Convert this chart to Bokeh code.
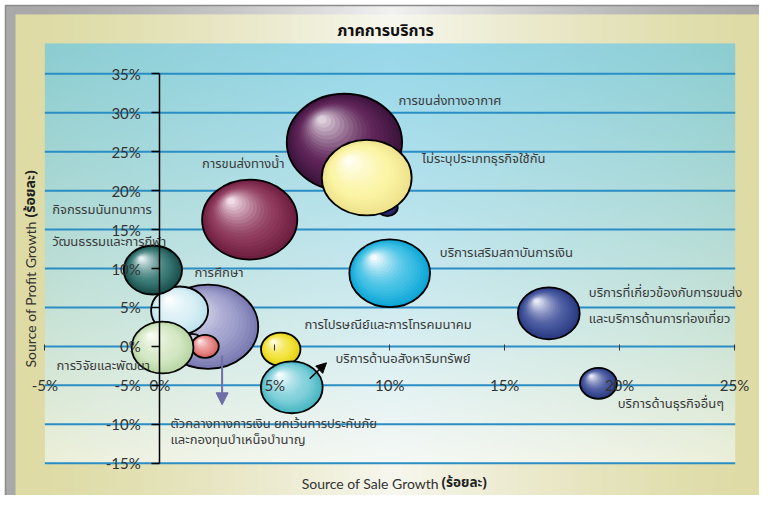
import numpy as np
from bokeh.plotting import figure
from bokeh.models import (ColumnDataSource, FixedTicker, PrintfTickFormatter,
                          Arrow, NormalHead, Range1d)
from bokeh.core.properties import value
from bokeh.embed import file_html
from bokeh.resources import INLINE

# ---------------- data ----------------
title_text = "ภาคการบริการ"
categories = [
    "การขนส่งทางอากาศ",
    "บริการอื่น (เล็ก)",
    "ไม่ระบุประเภทธุรกิจใช้กัน",
    "การขนส่งทางน้ำ",
    "ตัวกลางทางการเงิน ยกเว้นการประกันภัยและกองทุนบำเหน็จบำนาญ",
    "การศึกษา",
    "บริการอื่น (สีเทา)",
    "บริการอื่น (สีแดง)",
    "การวิจัยและพัฒนา",
    "กิจกรรมนันทนาการ วัฒนธรรมและการกีฬา",
    "การไปรษณีย์และการโทรคมนาคม",
    "บริการด้านอสังหาริมทรัพย์",
    "บริการเสริมสถาบันการเงิน",
    "บริการที่เกี่ยวข้องกับการขนส่งและบริการด้านการท่องเที่ยว",
    "บริการด้านธุรกิจอื่นๆ",
]
sale_growth = [8.03, 9.90, 9.00, 3.91, 2.10, 0.86, 1.42, 1.97, 0.12, -0.30,
               5.26, 5.74, 10.00, 16.92, 19.08]
profit_growth = [26.22, 17.84, 21.66, 16.29, 2.52, 4.61, 0.50, 0.01, -0.14, 9.81,
                 -0.37, -5.25, 9.39, 4.25, -4.74]
bubble_size = [94, 3, 57, 64, 71, 23, 3, 5.3, 27, 24, 11, 27, 46, 27, 9.6]

x_ticks = [-5, 0, 5, 10, 15, 20, 25]
y_ticks = [-15, -10, -5, 0, 5, 10, 15, 20, 25, 30, 35]

# label texts and their anchor positions (in axis units, %)
label_texts = [
    "การขนส่งทางอากาศ", "ไม่ระบุประเภทธุรกิจใช้กัน", "การขนส่งทางน้ำ",
    "กิจกรรมนันทนาการ", "วัฒนธรรมและการกีฬา", "การศึกษา",
    "การไปรษณีย์และการโทรคมนาคม", "บริการด้านอสังหาริมทรัพย์",
    "การวิจัยและพัฒนา", "ตัวกลางทางการเงิน ยกเว้นการประกันภัย",
    "และกองทุนบำเหน็จบำนาญ", "บริการเสริมสถาบันการเงิน",
    "บริการที่เกี่ยวข้องกับการขนส่ง", "และบริการด้านการท่องเที่ยว",
    "บริการด้านธุรกิจอื่นๆ",
]
label_x = [10.38, 11.41, 1.84, -4.68, -4.68, 1.51, 6.29, 7.64, -4.49, 0.47,
           0.47, 12.18, 18.66, 18.66, 19.92]
label_y = [31.45, 24.0, 23.45, 17.45, 13.38, 9.45, 2.81, -1.59, -2.58, -9.94,
           -12.08, 12.02, 6.83, 3.54, -7.46]

# ---------------- styles ----------------
# (dark edge, body, highlight) per bubble
bubble_colors = [
    ("#3c143c", "#5e2458", "#ddd0dc"),
    ("#1e1e5a", "#2e2e78", "#8080c0"),
    ("#efe28c", "#fbf4a4", "#fffef2"),
    ("#6e1e40", "#8e3a5c", "#f0dce6"),
    ("#7a7ab2", "#a0a0cc", "#f2f2fa"),
    ("#bde2ec", "#d8eff5", "#ffffff"),
    ("#9c9cbe", "#c4c4dc", "#f0f0f8"),
    ("#d66060", "#e88c8c", "#fde8e8"),
    ("#b8d6a4", "#d4e8c4", "#f8fbf4"),
    ("#1a4e4c", "#3a7a76", "#e4f0f0"),
    ("#e4d010", "#f2e440", "#fffce8"),
    ("#48b6c2", "#80d0da", "#f4fcfd"),
    ("#0ea6d6", "#40c0e4", "#f4fbfd"),
    ("#2a3a82", "#4a5aa0", "#e8eaf6"),
    ("#2a3a82", "#4a5aa0", "#e8eaf6"),
]

W, H = 759, 495
XR = (-6.929, 26.085)
YR = (-19.145, 44.414)
SX = W / (XR[1] - XR[0])
SY = H / (YR[1] - YR[0])

THAI = "Noto Sans Thai, Noto Sans, sans-serif"
LATIN = "Lato"

p = figure(width=W, height=H, x_range=Range1d(*XR), y_range=Range1d(*YR),
           output_backend="svg", toolbar_location=None, min_border=0)
p.outline_line_color = None
p.background_fill_color = "white"
p.border_fill_color = "white"
p.grid.visible = False


def hex2rgb(h):
    h = h.lstrip("#")
    return np.array([int(h[i:i + 2], 16) for i in (0, 2, 4)], dtype=float)


def rgb2hex(c):
    c = np.clip(np.round(c), 0, 255).astype(int)
    return "#%02x%02x%02x" % tuple(c)


def make_img(nx, ny, func):
    u = np.linspace(0, 1, nx)[None, :]
    v = np.linspace(0, 1, ny)[:, None]  # v=0 bottom row
    r, g, b = func(u + 0 * v, v + 0 * u)
    img = np.empty((ny, nx), dtype=np.uint32)
    view = img.view(dtype=np.uint8).reshape((ny, nx, 4))
    view[:, :, 0] = np.clip(r, 0, 255)
    view[:, :, 1] = np.clip(g, 0, 255)
    view[:, :, 2] = np.clip(b, 0, 255)
    view[:, :, 3] = 255
    return img


def lerp3(a, b, t):
    return [a[i] + (b[i] - a[i]) * t for i in range(3)]


# gray outer frame (spans the whole chart card, wider than the visible page part)
gx0, gx1 = -6.712, 26.9
gy0, gy1 = YR[0], 43.77
gray_edge = hex2rgb("#a9a9a9"); gray_mid = hex2rgb("#f2f2f2")
img_gray = make_img(380, 4, lambda u, v: lerp3(gray_edge, gray_mid, (1 - np.abs(2 * u - 1)) ** 1.6))
p.image_rgba(image=[img_gray], x=gx0, y=gy0, dw=gx1 - gx0, dh=gy1 - gy0)
p.quad(left=[gx0], right=[gx1], bottom=[gy0 - 5], top=[gy1], fill_color=None,
       line_color="#8c8c8c", line_width=1.5)

# beige panel
bx0, bx1 = -6.277, 26.55
by0, by1 = YR[0], 42.63
beige_edge = hex2rgb("#dedba5"); beige_mid = hex2rgb("#f7f7ef")
img_beige = make_img(380, 4, lambda u, v: lerp3(beige_edge, beige_mid, (1 - np.abs(2 * u - 1)) ** 1.4))
p.image_rgba(image=[img_beige], x=bx0, y=by0, dw=bx1 - bx0, dh=by1 - by0)

# plot area gradient
cx0, cx1 = -5.0, 25.03
cy0, cy1 = -15.04, 38.9
top_edge = hex2rgb("#8ccdd0"); top_mid = hex2rgb("#98d8ea")
bot_edge = hex2rgb("#ecefd8"); bot_mid = hex2rgb("#f6f9f6")


def cyan_func(u, v):
    c = (1 - np.abs(2 * u - 1)) ** 0.8
    top = lerp3(top_edge, top_mid, c)
    bot = lerp3(bot_edge, bot_mid, c)
    t = (1 - v) ** 1.1  # v=1 top
    return lerp3(top, bot, t)


img_cyan = make_img(345, 210, cyan_func)
p.image_rgba(image=[img_cyan], x=cx0, y=cy0, dw=cx1 - cx0, dh=cy1 - cy0)

# horizontal grid lines
p.segment(x0=[cx0] * len(y_ticks), x1=[cx1] * len(y_ticks), y0=y_ticks, y1=y_ticks,
          line_color="#2a8ec4", line_width=2)

# axes at zero
xa = p.xaxis[0]
xa.fixed_location = 0
xa.bounds = (x_ticks[0], x_ticks[-1])
xa.ticker = FixedTicker(ticks=x_ticks)
xa.formatter = PrintfTickFormatter(format="%d%%")
xa.axis_line_color = None
xa.major_tick_in = 2
xa.major_tick_out = 4
xa.major_tick_line_color = "#333333"
xa.minor_tick_line_color = None
xa.major_label_standoff = 26
xa.major_label_text_font = LATIN
xa.major_label_text_font_size = "15px"
xa.major_label_text_color = "#333333"

ya = p.yaxis[0]
ya.fixed_location = 0
ya.bounds = (y_ticks[0], y_ticks[-1])
ya.ticker = FixedTicker(ticks=y_ticks)
ya.formatter = PrintfTickFormatter(format="%d%%")
ya.axis_line_color = "black"
ya.axis_line_width = 1.5
ya.major_tick_in = 0
ya.major_tick_out = 8
ya.major_tick_line_color = "black"
ya.major_tick_line_width = 1.5
ya.minor_tick_line_color = None
ya.major_label_standoff = 11
ya.major_label_text_font = LATIN
ya.major_label_text_font_size = "15px"
ya.major_label_text_color = "#333333"

# bubbles with a shaded (sphere-like) fill
N = 18
ts = np.linspace(0, 0.92, N)
for i in range(len(categories)):
    d = 10 * np.sqrt(bubble_size[i])
    w, h = 1.19 * d, d
    offx = -0.42 * (w / 2) / SX
    offy = 0.5 * (h / 2) / SY
    dark, base, light = (hex2rgb(c) for c in bubble_colors[i])
    cols = []
    for t in ts:
        if t < 0.3:
            c = dark + (base - dark) * (t / 0.3)
        else:
            c = base + (light - base) * ((t - 0.3) / 0.62) ** 1.4
        cols.append(rgb2hex(c))
    src = ColumnDataSource(dict(x=sale_growth[i] + ts * offx, y=profit_growth[i] + ts * offy,
                                w=w * (1 - ts), h=h * (1 - ts), c=cols))
    p.ellipse(x="x", y="y", width="w", height="h", width_units="screen", height_units="screen",
              fill_color="c", line_color=None, source=src)
    p.ellipse(x=sale_growth[i], y=profit_growth[i], width=w, height=h,
              width_units="screen", height_units="screen",
              fill_color=None, line_color="black", line_width=1.8)

# bubble labels
lsrc = ColumnDataSource(dict(x=label_x, y=label_y, t=label_texts))
p.text(x="x", y="y", text="t", source=lsrc, text_font=value(THAI), text_font_size="13px",
       text_color="#3a3a3a", text_align="left", text_baseline="middle")

# arrows
p.add_layout(Arrow(x_start=2.71, y_start=-1.17, x_end=2.71, y_end=-7.50,
                   line_color="#6e6ea8", line_width=2,
                   end=NormalHead(size=12, fill_color="#6e6ea8", line_color="#6e6ea8")))
p.add_layout(Arrow(x_start=6.52, y_start=-4.16, x_end=7.25, y_end=-2.11,
                   line_color="black", line_width=1.5,
                   end=NormalHead(size=10, fill_color="black", line_color="black")))

# title
p.text(x=[9.82], y=[40.45], text=[title_text], text_font=value(THAI), text_font_size="16px",
       text_font_style="bold", text_color="#111111", text_align="center", text_baseline="middle")

# x axis title
p.text(x=[12.14], y=[-17.6], text=["Source of Sale Growth"], text_font=value(LATIN),
       text_font_size="14px", text_color="#333333", text_align="right", text_baseline="middle")
p.text(x=[12.25], y=[-17.6], text=["(ร้อยละ)"], text_font=value(THAI),
       text_font_size="13.5px", text_font_style="bold", text_color="#222222",
       text_align="left", text_baseline="middle")

# y axis title (rotated)
p.text(x=[-5.62], y=[16.04], text=["Source of Profit Growth"], text_font=value(LATIN),
       text_font_size="14px", text_color="#333333", text_align="right", text_baseline="middle",
       angle=np.pi / 2)
p.text(x=[-5.62], y=[16.55], text=["(ร้อยละ)"], text_font=value(THAI),
       text_font_size="14px", text_font_style="bold", text_color="#222222",
       text_align="left", text_baseline="middle", angle=np.pi / 2)

open("out.html", "w").write(file_html(p, INLINE))
